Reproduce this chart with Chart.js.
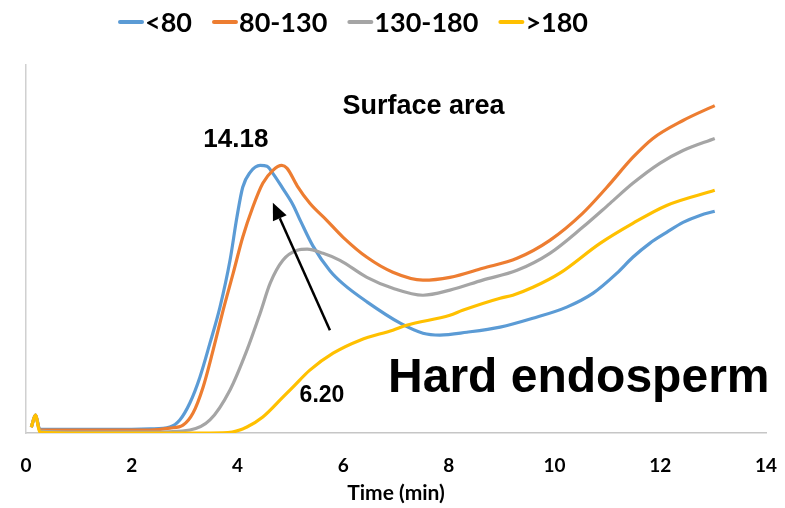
<!DOCTYPE html>
<html>
<head>
<meta charset="utf-8">
<script src="https://cdn.jsdelivr.net/npm/chart.js@4"></script>
<style>
  html, body { margin: 0; padding: 0; background: #fff; }
  #wrap { width: 785px; height: 508px; }
</style>
</head>
<body>
<div id="wrap"><canvas id="myChart" width="785" height="508"></canvas></div>
<script>
// legend / series
const seriesNames = ["<80", "80-130", "130-180", ">180"];
const seriesColors = ["#5B9BD5", "#ED7D31", "#A5A5A5", "#FFC000"];

// x ticks
const xTicks = [0, 2, 4, 6, 8, 10, 12, 14];

// <80
const timeA = [0.1, 0.18, 0.26, 1, 2, 2.35, 2.72, 2.91, 3.1, 3.29, 3.48, 3.67, 3.86, 3.99, 4.1, 4.24, 4.43, 4.56, 4.67, 4.86, 5.05, 5.2, 5.43, 5.75, 6.0, 6.45, 7.08, 7.51, 7.83, 8.34, 8.97, 9.59, 10.23, 10.73, 11.18, 11.48, 11.8, 12.12, 12.43, 12.75, 13.03];
const areaA = [0.3, 0.95, 0.2, 0.2, 0.2, 0.22, 0.32, 0.69, 1.59, 2.96, 4.76, 6.67, 9.15, 11.43, 13.02, 13.81, 14.18, 14.13, 13.76, 12.95, 12.1, 11.2, 9.9, 8.6, 7.9, 6.95, 5.82, 5.29, 5.19, 5.34, 5.61, 6.08, 6.67, 7.41, 8.47, 9.31, 10.05, 10.63, 11.16, 11.53, 11.75];

// 80-130
const timeB = [0.1, 0.18, 0.26, 1, 2, 2.35, 2.72, 2.97, 3.16, 3.35, 3.54, 3.73, 3.92, 4.1, 4.29, 4.48, 4.67, 4.84, 4.94, 5.13, 5.37, 5.69, 6.0, 6.45, 6.94, 7.51, 8.02, 8.64, 9.29, 9.91, 10.53, 10.99, 11.48, 11.86, 12.43, 13.03];
const areaB = [0.3, 0.95, 0.16, 0.16, 0.16, 0.16, 0.26, 0.42, 1.06, 2.43, 4.39, 6.51, 8.47, 10.37, 11.96, 13.23, 13.92, 14.18, 14.02, 13.1, 12.17, 11.27, 10.37, 9.31, 8.52, 8.1, 8.25, 8.73, 9.26, 10.21, 11.64, 13.02, 14.6, 15.61, 16.56, 17.35];

// 130-180
const timeC = [0.1, 0.18, 0.26, 1, 2, 2.35, 3.1, 3.48, 3.86, 4.18, 4.43, 4.62, 4.86, 5.13, 5.32, 5.62, 5.94, 6.45, 6.94, 7.51, 8.02, 8.64, 9.29, 9.91, 10.53, 11.05, 11.48, 11.99, 12.43, 13.03];
const areaC = [0.3, 0.95, 0.1, 0.05, 0.05, 0.05, 0.16, 0.69, 2.28, 4.39, 6.35, 7.94, 9.15, 9.68, 9.74, 9.52, 9.15, 8.25, 7.67, 7.3, 7.57, 8.1, 8.62, 9.52, 10.9, 12.17, 13.23, 14.29, 14.97, 15.61];

// >180
const timeD = [0.1, 0.18, 0.26, 1, 2, 3, 3.48, 3.9, 4.18, 4.48, 4.86, 5.05, 5.37, 5.81, 6.32, 6.94, 7.2, 8.02, 8.26, 8.97, 9.21, 9.59, 10.1, 10.86, 11.48, 12.12, 13.03];
const areaD = [0.3, 0.95, 0.05, 0, 0, 0, 0, 0.05, 0.32, 0.85, 1.9, 2.43, 3.33, 4.23, 4.92, 5.45, 5.71, 6.24, 6.5, 7.14, 7.3, 7.72, 8.47, 10.05, 11.11, 12.06, 12.86];

const toPoints = (xs, ys) => xs.map((x, i) => ({ x: x, y: ys[i] }));

const allTimes = [timeA, timeB, timeC, timeD];
const allAreas = [areaA, areaB, areaC, areaD];
const drawOrder = [3, 2, 1, 0];

const datasets = seriesNames.map((name, i) => ({
    label: name,
    data: toPoints(allTimes[i], allAreas[i]),
    borderColor: seriesColors[i],
    backgroundColor: seriesColors[i],
    borderWidth: 3.2,
    pointRadius: 0,
    cubicInterpolationMode: "monotone",
    order: drawOrder[i]
}));

// text notes, placed in data units
const notes = [
    { text: "Surface area", x: 7.52, y: 16.93, size: 27, align: "center" },
    { text: "14.18", x: 3.97, y: 15.13, size: 26, align: "center" },
    { text: "6.20", x: 5.6, y: 1.64, size: 23, align: "center" },
    { text: "Hard endosperm", x: 6.85, y: 2.17, size: 48, align: "left" }
];
const arrowFrom = { x: 5.75, y: 5.45 };
const arrowTo = { x: 4.67, y: 12.2 };

const extrasPlugin = {
    id: "extras",
    afterDraw(chart) {
        const ctx = chart.ctx;
        const xs = chart.scales.x;
        const ys = chart.scales.y;

        ctx.save();
        ctx.fillStyle = "#000";
        ctx.textBaseline = "alphabetic";
        notes.forEach(n => {
            ctx.font = "bold " + n.size + "px 'Liberation Sans', Arial, sans-serif";
            ctx.textAlign = n.align;
            ctx.fillText(n.text, xs.getPixelForValue(n.x), ys.getPixelForValue(n.y));
        });

        // arrow
        const x1 = xs.getPixelForValue(arrowFrom.x), y1 = ys.getPixelForValue(arrowFrom.y);
        const x2 = xs.getPixelForValue(arrowTo.x), y2 = ys.getPixelForValue(arrowTo.y);
        const ang = Math.atan2(y2 - y1, x2 - x1);
        const headLen = 17, headW = 7.5;
        const bx = x2 - headLen * Math.cos(ang), by = y2 - headLen * Math.sin(ang);
        ctx.strokeStyle = "#000";
        ctx.lineWidth = 2.5;
        ctx.beginPath();
        ctx.moveTo(x1, y1);
        ctx.lineTo(bx, by);
        ctx.stroke();
        ctx.beginPath();
        ctx.moveTo(x2, y2);
        ctx.lineTo(bx + headW * Math.sin(ang), by - headW * Math.cos(ang));
        ctx.lineTo(bx - headW * Math.sin(ang), by + headW * Math.cos(ang));
        ctx.closePath();
        ctx.fill();

        // legend
        ctx.font = "bold 27px Lato, sans-serif";
        ctx.textAlign = "left";
        ctx.textBaseline = "middle";
        ctx.lineCap = "round";
        let lx = 118;
        const ly = 22;
        chart.data.datasets.forEach(ds => {
            ctx.strokeStyle = ds.borderColor;
            ctx.lineWidth = 4;
            ctx.beginPath();
            ctx.moveTo(lx + 2, ly);
            ctx.lineTo(lx + 24, ly);
            ctx.stroke();
            ctx.fillStyle = "#000";
            ctx.fillText(ds.label, lx + 27, ly + 1);
            lx += 27 + ctx.measureText(ds.label).width + 20;
        });
        ctx.restore();
    }
};

const ctx = document.getElementById("myChart").getContext("2d");

const myChart = new Chart(ctx, {
    type: "line",
    data: { datasets: datasets },
    options: {
        responsive: false,
        animation: false,
        devicePixelRatio: 1,
        layout: { padding: { left: 26, right: 19, top: 65, bottom: 0 } },
        plugins: {
            legend: { display: false },
            tooltip: { enabled: false }
        },
        scales: {
            x: {
                type: "linear",
                min: 0,
                max: 14,
                afterBuildTicks: (scale) => { scale.ticks = xTicks.map(v => ({ value: v })); },
                afterFit: (scale) => {
                    scale.height = 75;
                    scale.paddingLeft = 0;
                    scale.paddingRight = 0;
                },
                grid: { display: false, drawTicks: false },
                border: { display: true, color: "#c6c6c6", width: 1.5 },
                ticks: {
                    padding: 21,
                    color: "#000",
                    font: { family: "Lato", weight: "bold", size: 19 }
                },
                title: {
                    display: true,
                    text: "Time (min)",
                    color: "#000",
                    font: { family: "Lato", weight: "bold", size: 21 },
                    padding: { top: 0, bottom: 2 }
                }
            },
            y: {
                min: 0,
                max: 19.5,
                afterFit: (scale) => { scale.width = 0; },
                grid: { display: false, drawTicks: false },
                border: { display: true, color: "#d0d0d0", width: 1.5 },
                ticks: { display: false }
            }
        }
    },
    plugins: [extrasPlugin]
});
</script>
</body>
</html>
